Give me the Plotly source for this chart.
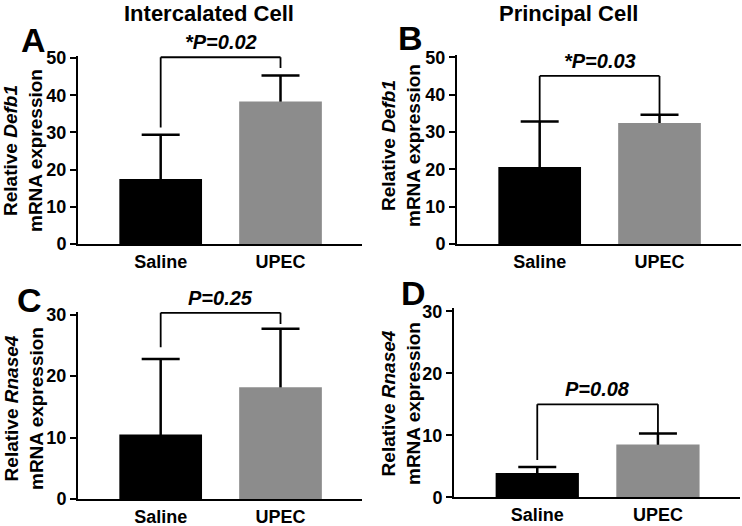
import plotly.graph_objects as go

W, H = 742, 526

groups = ["Saline", "UPEC"]
bar_colors = ["#000000", "#8c8c8c"]

# mean values (bar heights) and top of error bars
a_mean = [17.5, 38.3]
a_top = [29.4, 45.3]
b_mean = [20.6, 32.4]
b_top = [32.8, 34.6]
c_mean = [10.5, 18.2]
c_top = [22.8, 27.7]
d_mean = [3.9, 8.5]
d_top = [4.9, 10.3]

# significance brackets: [bracket level, left leg end, right leg end]
a_bracket = [50.2, 31.3, 47.3]
b_bracket = [45.0, 32.8, 34.6]
c_bracket = [30.3, 24.7, 28.5]
d_bracket = [15.0, 6.0, 8.5]

p_labels = ["*P=0.02", "*P=0.03", "P=0.25", "P=0.08"]
panel_letters = ["A", "B", "C", "D"]
col_titles = ["Intercalated Cell", "Principal Cell"]
genes = ["Defb1", "Defb1", "Rnase4", "Rnase4"]
yticks_defb1 = [0, 10, 20, 30, 40, 50]
yticks_rnase4 = [0, 10, 20, 30]

FONT = "Arial, Liberation Sans, sans-serif"

# layout geometry in pixels (style, not data)
geo = [
    dict(x0=78, x1=362, yb=244, yt=58, rmax=50.6, ticks=yticks_defb1,
         letter=(33, 40), ytitle=(23, 151)),
    dict(x0=457, x1=741, yb=244, yt=57.3, rmax=50.6, ticks=yticks_defb1,
         letter=(410, 38), ytitle=(401, 146)),
    dict(x0=78, x1=362, yb=499, yt=314.7, rmax=30.5, ticks=yticks_rnase4,
         letter=(29, 300), ytitle=(24, 409)),
    dict(x0=454, x1=740, yb=497.3, yt=311.3, rmax=30.5, ticks=yticks_rnase4,
         letter=(414, 293), ytitle=(401, 404)),
]
means = [a_mean, b_mean, c_mean, d_mean]
tops = [a_top, b_top, c_top, d_top]
brackets = [a_bracket, b_bracket, c_bracket, d_bracket]

fig = go.Figure()
shapes = []
annotations = []
layout_axes = {}

for i, g in enumerate(geo):
    n = "" if i == 0 else str(i + 1)
    xa, ya = "x" + n, "y" + n
    tickmax = g["ticks"][-1]
    px_per_unit = (g["yb"] - g["yt"]) / tickmax
    top_pix = g["yb"] - px_per_unit * g["rmax"]
    layout_axes["xaxis" + n] = dict(
        domain=[g["x0"] / W, g["x1"] / W], anchor=ya, automargin=False,
        range=[-0.69, 1.68], tickvals=[0, 1], ticktext=groups,
        showline=True, linewidth=2, linecolor="black", ticks="",
        showgrid=False, zeroline=False, ticklabelstandoff=0,
        tickfont=dict(family=FONT, size=18, color="black", weight="bold"),
    )
    layout_axes["yaxis" + n] = dict(
        domain=[1 - g["yb"] / H, 1 - top_pix / H], anchor=xa, automargin=False,
        range=[0, g["rmax"]], tickvals=g["ticks"],
        showline=True, linewidth=2, linecolor="black",
        ticks="outside", ticklen=6, tickwidth=2, tickcolor="black",
        showgrid=False, zeroline=False,
        tickfont=dict(family=FONT, size=18, color="black", weight="bold"),
    )
    m, t = means[i], tops[i]
    hide = 4 / px_per_unit  # lower cap tucked inside the bar
    # invisible carrier for the upward-only error bars (drawn under the bars)
    fig.add_trace(go.Bar(
        x=[0, 1], y=m, width=0.69, xaxis=xa, yaxis=ya,
        marker=dict(color="rgba(0,0,0,0)", line=dict(width=0)),
        error_y=dict(type="data", symmetric=False,
                     array=[t[k] - m[k] for k in range(2)],
                     arrayminus=[hide, hide], color="black",
                     thickness=2.5, width=19),
        showlegend=False, hoverinfo="skip",
    ))
    fig.add_trace(go.Bar(
        x=[0, 1], y=m, width=0.69, xaxis=xa, yaxis=ya,
        marker=dict(color=bar_colors, line=dict(width=0)),
        showlegend=False, hoverinfo="skip",
    ))
    lvl, left, right = brackets[i]
    line = dict(color="black", width=1.8)
    shapes += [
        dict(type="line", xref=xa, yref=ya, x0=0, x1=1, y0=lvl, y1=lvl, line=line),
        dict(type="line", xref=xa, yref=ya, x0=0, x1=0, y0=lvl, y1=left, line=line),
        dict(type="line", xref=xa, yref=ya, x0=1, x1=1, y0=lvl, y1=right, line=line),
    ]
    annotations.append(dict(
        xref=xa, yref=ya, x=0.5, y=lvl, yanchor="bottom", yshift=2,
        text="<b><i>" + p_labels[i] + "</i></b>", showarrow=False,
        font=dict(family=FONT, size=20, color="black"),
    ))
    lx, ly = g["letter"]
    annotations.append(dict(
        xref="paper", yref="paper", x=lx / W, y=1 - ly / H,
        xanchor="center", yanchor="middle", showarrow=False,
        text="<b>" + panel_letters[i] + "</b>",
        font=dict(family=FONT, size=34, color="black"),
    ))
    tx, ty = g["ytitle"]
    annotations.append(dict(
        xref="paper", yref="paper", x=tx / W, y=1 - ty / H,
        xanchor="center", yanchor="middle", showarrow=False, textangle=-90,
        text="<b>Relative <i>" + genes[i] + "</i><br>mRNA expression</b>",
        font=dict(family=FONT, size=19, color="black"),
    ))

for j, (cx, title) in enumerate(zip([209, 568], col_titles)):
    annotations.append(dict(
        xref="paper", yref="paper", x=cx / W, y=1,
        xanchor="center", yanchor="top", showarrow=False, borderpad=0,
        text="<b>" + title + "</b>",
        font=dict(family=FONT, size=22, color="black"),
    ))

fig.update_layout(
    width=W, height=H,
    margin=dict(l=0, r=0, t=0, b=0, pad=0, autoexpand=False),
    barmode="overlay",
    paper_bgcolor="white", plot_bgcolor="white",
    shapes=shapes, annotations=annotations, **layout_axes,
)

fig.write_html("out.html", config={"displayModeBar": False},
               post_script="document.body.style.margin='0px';")
